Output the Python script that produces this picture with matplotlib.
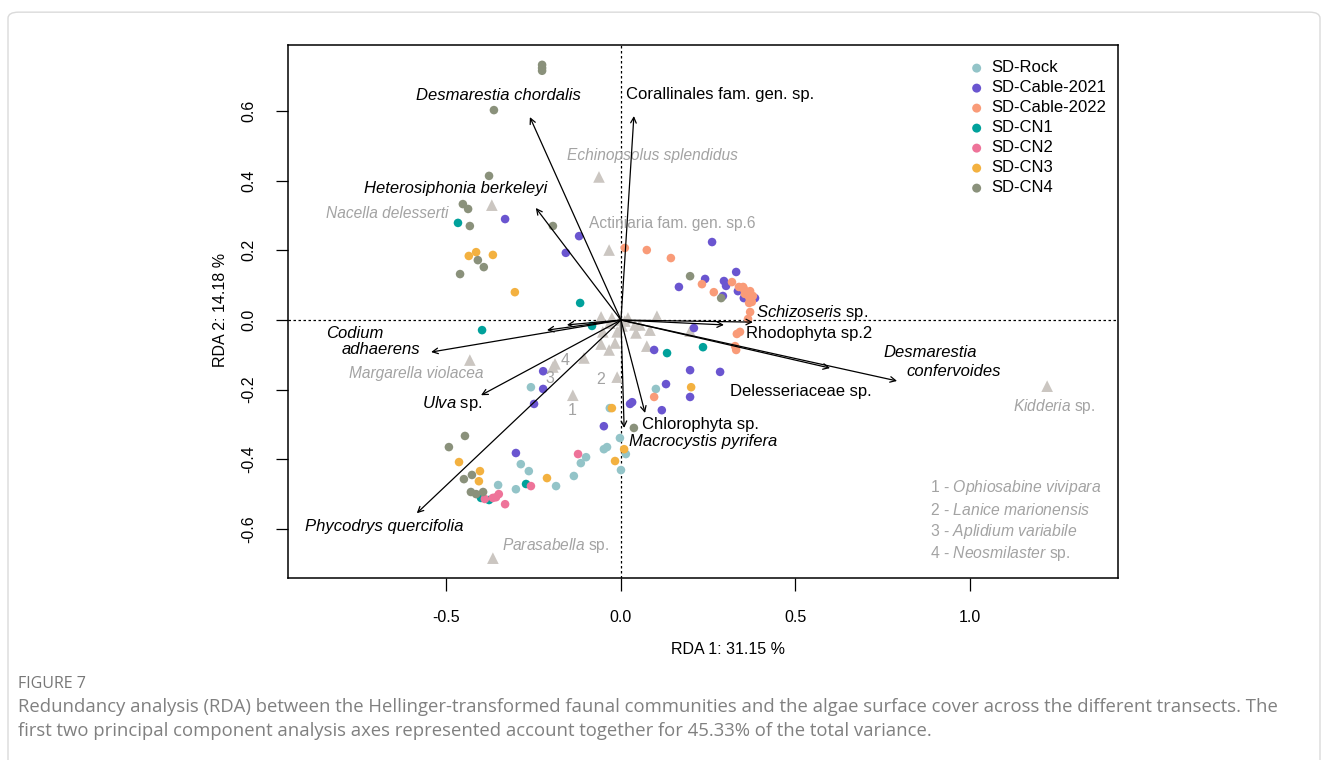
import matplotlib
matplotlib.use("Agg")
import matplotlib.pyplot as plt
from matplotlib.patches import FancyBboxPatch

plt.rcParams['font.family'] = ['Liberation Sans', 'DejaVu Sans']
plt.rcParams['mathtext.fontset'] = 'custom'
plt.rcParams['mathtext.rm'] = 'Liberation Sans'
plt.rcParams['mathtext.it'] = 'Liberation Sans:italic'

# site scores per transect (RDA1, RDA2)
groups = ["SD-Rock", "SD-Cable-2021", "SD-Cable-2022", "SD-CN1", "SD-CN2", "SD-CN3", "SD-CN4"]
colors = ["#93C4C8", "#6A55D0", "#F99B78", "#00A19B", "#EE7399", "#F3B140", "#8A917B"]

rock_x = [0.100, -0.032, -0.003, -0.040, -0.049, 0.014, 0.000, -0.100, -0.115, -0.135, -0.186, -0.287, -0.264, -0.352, -0.301, -0.258]
rock_y = [-0.198, -0.253, -0.339, -0.365, -0.371, -0.385, -0.431, -0.394, -0.411, -0.448, -0.477, -0.414, -0.434, -0.474, -0.486, -0.193]

c21_x = [-0.332, -0.120, -0.158, 0.261, 0.166, 0.241, 0.330, 0.295, 0.301, 0.335, 0.292, 0.352, 0.384, 0.209, 0.095, 0.198, 0.284, 0.129, 0.198, 0.117, 0.032, 0.026, -0.049, -0.223, -0.223, -0.249, -0.301]
c21_y = [0.290, 0.241, 0.193, 0.224, 0.095, 0.118, 0.138, 0.112, 0.098, 0.083, 0.069, 0.063, 0.063, -0.023, -0.086, -0.144, -0.149, -0.184, -0.221, -0.259, -0.236, -0.241, -0.305, -0.147, -0.198, -0.241, -0.382]

c22_x = [0.011, 0.074, 0.143, 0.232, 0.266, 0.318, 0.338, 0.350, 0.361, 0.370, 0.378, 0.367, 0.375, 0.367, 0.352, 0.355, 0.370, 0.364, 0.341, 0.332, 0.327, 0.330, 0.095]
c22_y = [0.207, 0.201, 0.178, 0.103, 0.080, 0.109, 0.095, 0.095, 0.080, 0.083, 0.069, 0.066, 0.052, 0.049, 0.089, 0.075, 0.023, 0.003, -0.034, -0.040, -0.075, -0.086, -0.221]

cn1_x = [-0.467, -0.117, -0.398, -0.083, 0.132, 0.235, -0.272, -0.401, -0.378]
cn1_y = [0.279, 0.049, -0.029, -0.017, -0.095, -0.078, -0.471, -0.511, -0.517]

cn2_x = [-0.123, -0.258, -0.350, -0.358, -0.367, -0.390, -0.332]
cn2_y = [-0.385, -0.477, -0.500, -0.509, -0.511, -0.514, -0.529]

cn3_x = [-0.415, -0.436, -0.367, -0.304, -0.026, 0.201, 0.009, -0.017, -0.212, -0.464, -0.404, -0.407]
cn3_y = [0.195, 0.184, 0.187, 0.080, -0.253, -0.193, -0.371, -0.405, -0.454, -0.408, -0.434, -0.463]

cn4_x = [-0.226, -0.226, -0.226, -0.364, -0.378, -0.453, -0.438, -0.433, -0.195, -0.410, -0.393, -0.461, 0.198, 0.287, 0.037, -0.447, -0.493, -0.427, -0.450, -0.430, -0.415, -0.395]
cn4_y = [0.733, 0.724, 0.716, 0.603, 0.414, 0.333, 0.319, 0.270, 0.270, 0.172, 0.152, 0.132, 0.126, 0.063, -0.310, -0.333, -0.365, -0.445, -0.457, -0.494, -0.500, -0.494]

site_x = [rock_x, c21_x, c22_x, cn1_x, cn2_x, cn3_x, cn4_x]
site_y = [rock_y, c21_y, c22_y, cn1_y, cn2_y, cn3_y, cn4_y]

# fauna species scores
fauna_x = [-0.063, -0.370, -0.034, 1.221, -0.433, -0.367, -0.138, -0.011, -0.189, -0.195, -0.106,
           -0.057, -0.032, -0.003, 0.011, 0.040, 0.054, 0.103, 0.043, 0.083, 0.198, -0.057, -0.034,
           -0.017, 0.074, -0.052, -0.011, -0.026, 0.020, 0.003]
fauna_y = [0.411, 0.330, 0.201, -0.190, -0.115, -0.684, -0.216, -0.164, -0.126, -0.135, -0.109,
           0.009, -0.009, 0.000, -0.003, -0.014, -0.014, 0.011, -0.037, -0.029, -0.032, -0.069, -0.086,
           -0.066, -0.075, -0.034, -0.034, 0.006, 0.006, -0.017]

fauna_labels = ["Echinopsolus splendidus", "Nacella delesserti",
                "Actiniaria fam. gen. sp.6", r"$\mathit{Kidderia}$ sp.", "Margarella violacea",
                r"$\mathit{Parasabella}$ sp."]
fauna_italic = [True, True, False, False, True, False]
fauna_lab_x = [0.089, -0.670, 0.146, 1.241, -0.587, -0.186]
fauna_lab_y = [0.474, 0.307, 0.276, -0.247, -0.155, -0.649]

num_labels = ["1", "2", "3", "4"]
num_x = [-0.140, -0.057, -0.203, -0.160]
num_y = [-0.259, -0.170, -0.167, -0.115]

key_labels = [r"1 - $\mathit{Ophiosabine\ vivipara}$", r"2 - $\mathit{Lanice\ marionensis}$",
              r"3 - $\mathit{Aplidium\ variabile}$", r"4 - $\mathit{Neosmilaster}$ sp."]
key_y = [-0.480, -0.546, -0.606, -0.670]

# algae biplot arrows
arrow_x = [-0.261, 0.037, -0.244, -0.544, -0.212, -0.155, -0.401, -0.585, 0.069, 0.009, 0.378, 0.295, 0.599, 0.791]
arrow_y = [0.583, 0.586, 0.322, -0.092, -0.029, -0.014, -0.216, -0.555, -0.267, -0.310, -0.006, -0.014, -0.138, -0.175]

algae_labels = ["Desmarestia chordalis", "Corallinales fam. gen. sp.",
                "Heterosiphonia berkeleyi", "Codium", "adhaerens",
                r"$\mathit{Ulva}$ sp.", "Phycodrys quercifolia", "Chlorophyta sp.",
                "Macrocystis pyrifera", r"$\mathit{Schizoseris}$ sp.", "Rhodophyta sp.2",
                "Delesseriaceae sp.", "Desmarestia", "confervoides"]
algae_italic = [True, False, True, True, True, False, True, False, True, False, False, False, True, True]
algae_lab_x = [-0.351, 0.284, -0.473, -0.762, -0.688, -0.484, -0.679, 0.229, 0.235, 0.547, 0.539, 0.516, 0.885, 0.954]
algae_lab_y = [0.644, 0.647, 0.379, -0.040, -0.086, -0.239, -0.592, -0.299, -0.348, 0.023, -0.040, -0.204, -0.092, -0.147]

fig = plt.figure(figsize=(13.28, 7.6), dpi=100)
ax = fig.add_axes([288 / 1328, 1 - 578 / 760, 830 / 1328, 533 / 760])

# figure frame as in the journal page
fig.patches.append(FancyBboxPatch((8 / 1328, -0.05), 1312 / 1328, 0.984 + 0.05,
                                  boxstyle="round,pad=0,rounding_size=0.008",
                                  transform=fig.transFigure, fc="none", ec="#DADADA", lw=1.0))

ax.axhline(0, color="black", ls=(0, (2, 2)), lw=0.9, zorder=1)
ax.axvline(0, color="black", ls=(0, (2, 2)), lw=0.9, zorder=1)

for xs, ys, c, g in zip(site_x, site_y, colors, groups):
    ax.scatter(xs, ys, s=38, color=c, edgecolors="none", label=g, zorder=3)

ax.scatter(fauna_x, fauna_y, marker="^", s=70, color="#CBC6C1", edgecolors="none", zorder=2)

gray = "#A3A3A3"
for lab, it, x, y in zip(fauna_labels, fauna_italic, fauna_lab_x, fauna_lab_y):
    ax.text(x, y, lab, color=gray, fontsize=11.2, style="italic" if it else "normal",
            ha="center", va="center", zorder=4)
for lab, x, y in zip(num_labels, num_x, num_y):
    ax.text(x, y, lab, color=gray, fontsize=11.5, ha="center", va="center", zorder=7)
for lab, y in zip(key_labels, key_y):
    ax.text(0.885, y, lab, color=gray, fontsize=11.3, ha="left", va="center", zorder=4)

for x, y in zip(arrow_x, arrow_y):
    ax.annotate("", xy=(x, y), xytext=(0, 0),
                arrowprops=dict(arrowstyle="->", color="black", lw=0.9,
                                shrinkA=0, shrinkB=0, mutation_scale=10), zorder=5)
for lab, it, x, y in zip(algae_labels, algae_italic, algae_lab_x, algae_lab_y):
    ax.text(x, y, lab, color="black", fontsize=12, style="italic" if it else "normal",
            ha="center", va="center", zorder=6)

ax.set_xlim(-0.954, 1.424)
ax.set_ylim(-0.741, 0.790)
ax.set_xticks([-0.5, 0.0, 0.5, 1.0])
ax.set_xticklabels(["-0.5", "0.0", "0.5", "1.0"])
ax.set_yticks([-0.6, -0.4, -0.2, 0.0, 0.2, 0.4, 0.6])
ax.set_yticklabels(["-0.6", "-0.4", "-0.2", "0.0", "0.2", "0.4", "0.6"], rotation=90, va="center")
ax.tick_params(direction="out", length=9, width=0.9, labelsize=11.5, pad=14)
for sp in ax.spines.values():
    sp.set_linewidth(1.1)

fig.text(728 / 1328, 1 - 650 / 760, "RDA 1: 31.15 %", ha="center", va="center", fontsize=11.5)
fig.text(221 / 1328, 1 - 310 / 760, "RDA 2: 14.18 %", ha="center", va="center", fontsize=11.5, rotation=90)

leg = ax.legend(loc="upper left", bbox_to_anchor=((970 - 288) / 830, (578 - 60.5) / 533), frameon=False,
                fontsize=12, handlelength=0.8, handletextpad=0.45, labelspacing=0.3, borderpad=0,
                borderaxespad=0, scatterpoints=1, markerscale=1.05)

cap_font = ["Open Sans", "DejaVu Sans"]
fig.text(18 / 1328, 1 - 684 / 760, "FIGURE 7", color="#777777", fontsize=11.5,
         family=cap_font, ha="left", va="center")
fig.text(18 / 1328, 1 - 707 / 760,
         "Redundancy analysis (RDA) between the Hellinger-transformed faunal communities and the algae surface cover across the different transects. The",
         color="#808080", fontsize=13.3, family=cap_font, ha="left", va="center")
fig.text(18 / 1328, 1 - 731 / 760,
         "first two principal component analysis axes represented account together for 45.33% of the total variance.",
         color="#808080", fontsize=13.3, family=cap_font, ha="left", va="center")

fig.savefig("out.png", dpi=100)
